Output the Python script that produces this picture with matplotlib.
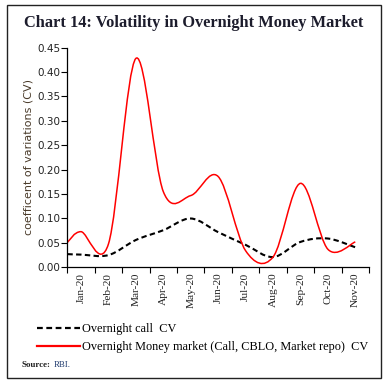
import numpy as np
import matplotlib
matplotlib.use("Agg")
import matplotlib.pyplot as plt
from matplotlib.path import Path
from matplotlib.patches import PathPatch, Rectangle
from matplotlib.lines import Line2D

# -------------------------------------------------------
# Andmed (loetud pildilt)
# -------------------------------------------------------
months = ['Jan-20', 'Feb-20', 'Mar-20', 'Apr-20', 'May-20', 'Jun-20',
          'Jul-20', 'Aug-20', 'Sep-20', 'Oct-20', 'Nov-20']
# esimene punkt asub telje vasakul serval (enne Jan-20 keskpunkti)
x_pos = [-0.5, 0, 1, 2, 3, 4, 5, 6, 7, 8, 9, 10]
call_cv = [0.027, 0.026, 0.025, 0.056, 0.076, 0.100, 0.072, 0.046, 0.021, 0.052, 0.059, 0.041]
money_cv = [0.051, 0.073, 0.048, 0.428, 0.155, 0.147, 0.186, 0.034, 0.021, 0.172, 0.037, 0.052]

label_call = 'Overnight call  CV'
label_money = 'Overnight Money market (Call, CBLO, Market repo)  CV'


def smooth_path(xs, ys):
    # Exceli "smoothed line" sarnane Bezier kõver läbi punktide
    pts = np.column_stack([xs, ys]).astype(float)
    n = len(pts)
    verts = [pts[0]]
    codes = [Path.MOVETO]
    for i in range(n - 1):
        p0 = pts[i - 1] if i > 0 else pts[i]
        p1 = pts[i]
        p2 = pts[i + 1]
        p3 = pts[i + 2] if i + 2 < n else pts[i + 1]
        c1 = p1 + (p2 - p0) / 6.0
        c2 = p2 - (p3 - p1) / 6.0
        verts += [c1, c2, p2]
        codes += [Path.CURVE4] * 3
    return Path(verts, codes)


fig = plt.figure(figsize=(3.87, 3.85), dpi=100)
ax = fig.add_axes([0.174, 0.3057, 0.7795, 0.5705])

ax.add_patch(PathPatch(smooth_path(x_pos, call_cv), fill=False, edgecolor='black',
                       linewidth=1.5, linestyle=(0, (2.6, 1.6))))
ax.add_patch(PathPatch(smooth_path(x_pos, money_cv), fill=False, edgecolor='#ff0000',
                       linewidth=1.1))

ax.set_xlim(-0.5, len(months) - 0.5)
ax.set_ylim(0, 0.45)
ax.set_yticks(np.arange(0, 0.451, 0.05))
ax.set_yticklabels([f'{v:.2f}' for v in np.arange(0, 0.451, 0.05)],
                   fontsize=7.5, family='DejaVu Sans', color='#222222')
ax.set_xticks(np.arange(-0.5, len(months), 1))
ax.set_xticklabels([])
ax.set_xticks(np.arange(len(months)), minor=True)
ax.set_xticklabels(months, minor=True, rotation=90, fontsize=8.2,
                   family='Liberation Serif', color='#222222')
ax.tick_params(axis='x', which='minor', length=0, pad=4)
ax.tick_params(axis='x', which='major', length=4, width=0.8)
ax.tick_params(axis='y', length=4, width=0.8, pad=1)
ax.spines['top'].set_visible(False)
ax.spines['right'].set_visible(False)
ax.spines['left'].set_linewidth(0.9)
ax.spines['bottom'].set_linewidth(0.9)

ax.set_ylabel('coefficent of variations (CV)', fontsize=8, family='DejaVu Sans',
              color='#4a3b2a', labelpad=3)

# Pealkiri
fig.text(0.5, 0.94, 'Chart 14: Volatility in Overnight Money Market', ha='center',
         va='center', fontsize=11.8, fontweight='bold', family='Liberation Serif',
         color='#1c1c2c')

# Legend
handles = [Line2D([], [], color='black', linewidth=1.6, linestyle=(0, (2.6, 1.6))),
           Line2D([], [], color='#ff0000', linewidth=1.6)]
fig.legend(handles, [label_call, label_money], loc='upper left',
           bbox_to_anchor=(0.068, 0.19), frameon=False, handlelength=3.5,
           handletextpad=0.15, labelspacing=0.5,
           prop={'family': 'Liberation Serif', 'size': 8.8})

# Allikas: "RBI." vahetult "Source:" järel
t1 = fig.text(0.056, 0.052, 'Source:', fontsize=6.4, fontweight='bold',
              family='Liberation Serif', va='center', color='#222222')
ax.annotate('RBI.', xy=(1, 0.5), xycoords=t1, xytext=(2, 0),
            textcoords='offset points', va='center', ha='left',
            fontsize=6.4, family='Liberation Serif', color='#1f3a6e',
            annotation_clip=False)

# Raam ümber
fig.patches.append(Rectangle((0.018, 0.018), 0.9656, 0.969, transform=fig.transFigure,
                             fill=False, edgecolor='#222222', linewidth=1.0))

fig.savefig('out.png', dpi=100)
